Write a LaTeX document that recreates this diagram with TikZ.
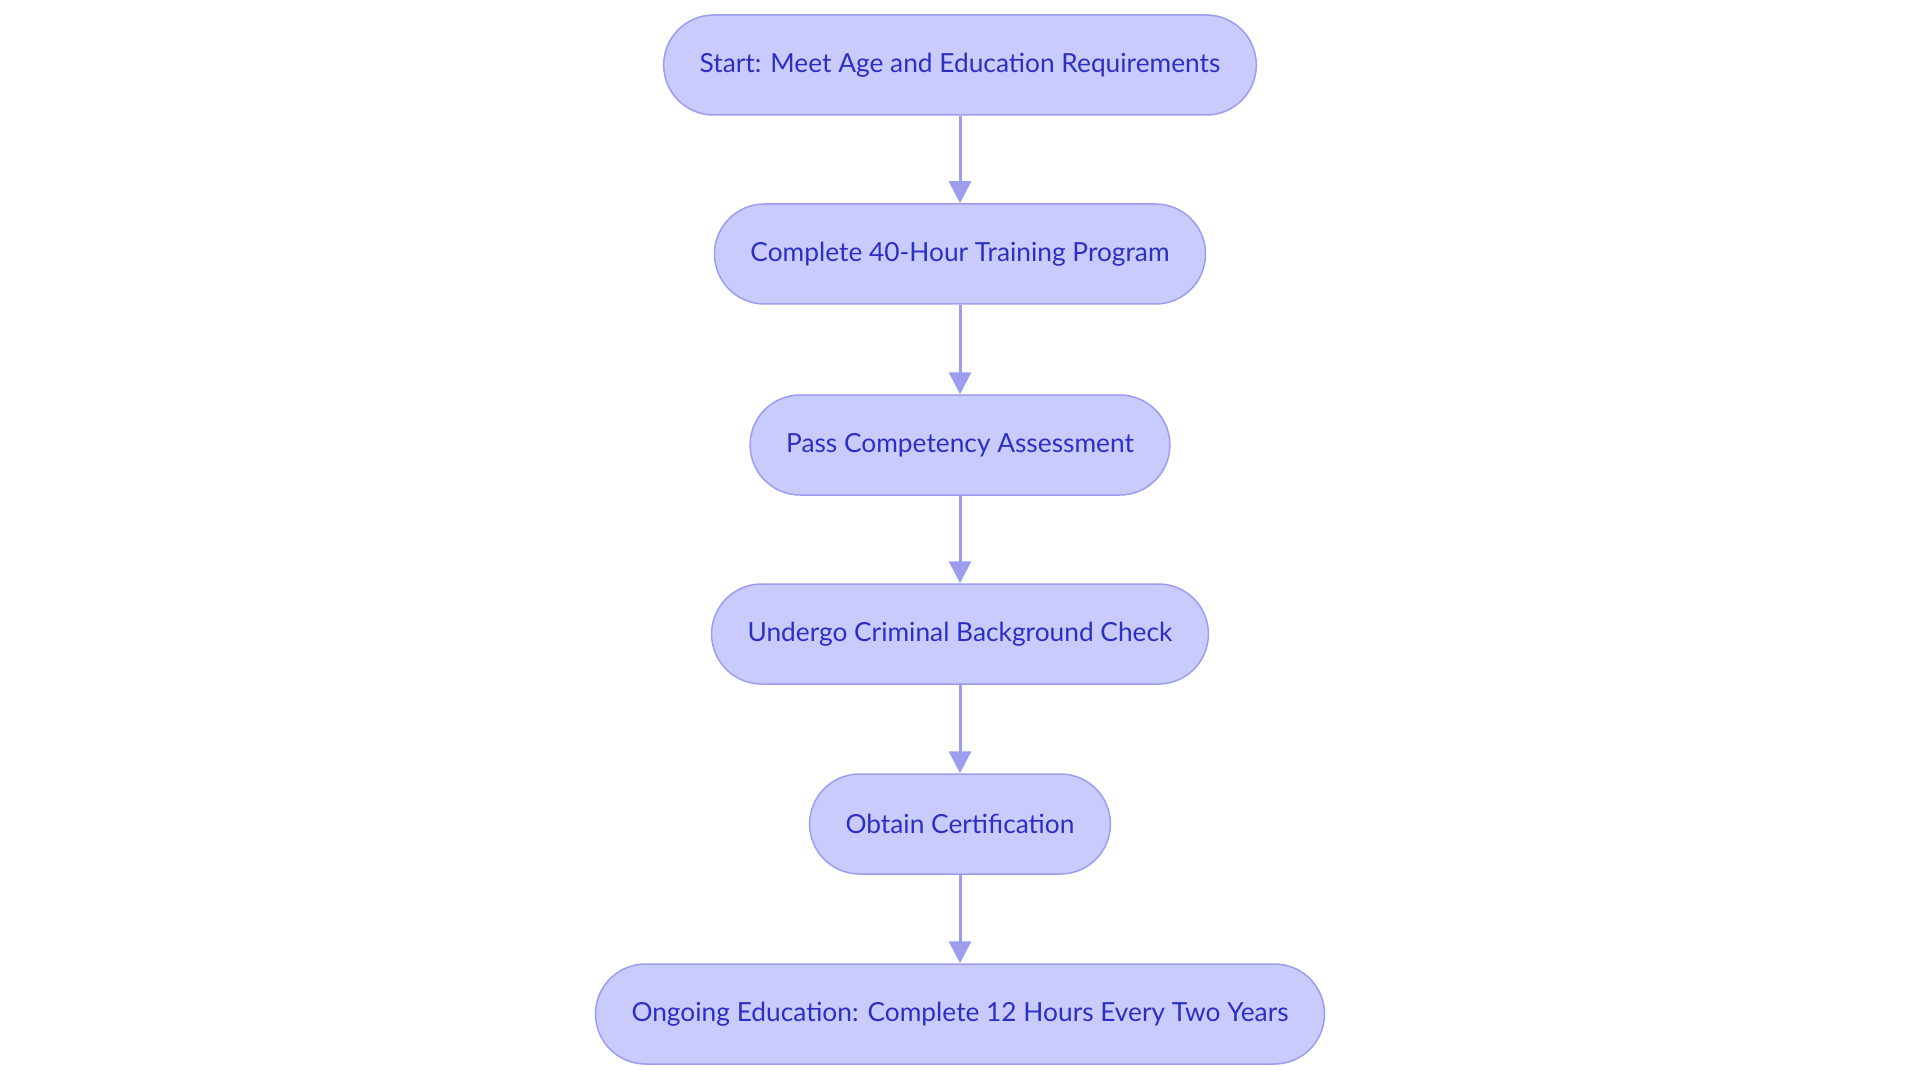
\documentclass[tikz,border=0pt]{standalone}
\usepackage{fontspec}
\setmainfont{Lato}
\usetikzlibrary{arrows.meta}
\definecolor{stepfill}{HTML}{CACBFD}
\definecolor{stepline}{HTML}{9B9EF0}
\definecolor{steptext}{HTML}{2C2FC4}
\begin{document}
\begin{tikzpicture}[x=1pt,y=-1pt,
    stepbox/.style={draw=stepline, fill=stepfill, line width=1.5pt, rounded corners=50pt,
        minimum height=100pt, inner xsep=36pt, text=steptext, font=\fontsize{26.3}{31}\selectfont},
    flow/.style={draw=stepline, line width=3pt, -{Triangle[width=22pt,length=22pt]}}]
            \useasboundingbox (0, 0) rectangle (1920, 1083);
            \node[stepbox] (start) at (960, 65) {Start: Meet Age and Education Requirements};
            \node[stepbox] (training) at (960, 254) {Complete 40-Hour Training Program};
            \node[stepbox] (assess) at (960, 445) {Pass Competency Assessment};
            \node[stepbox] (check) at (960, 634) {Undergo Criminal Background Check};
            \node[stepbox] (cert) at (960, 824) {Obtain Certification};
            \node[stepbox] (ongoing) at (960, 1014) {Ongoing Education: Complete 12 Hours Every Two Years};
            \draw[flow] (start) -- (training);
            \draw[flow] (training) -- (assess);
            \draw[flow] (assess) -- (check);
            \draw[flow] (check) -- (cert);
            \draw[flow] (cert) -- (ongoing);
        \end{tikzpicture}
\end{document}
